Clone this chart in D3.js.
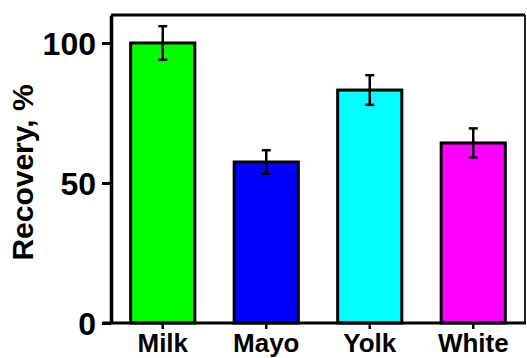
<!DOCTYPE html>
<html><head><meta charset="utf-8">
<script src="https://cdn.jsdelivr.net/npm/d3@7"></script>
<style>body{margin:0;background:#fff}svg{display:block}</style>
</head><body>
<script>
const categories = ["Milk", "Mayo", "Yolk", "White"];
const values = [100, 57.5, 83.2, 64.3];
const errors = [6, 4.2, 5.3, 5.2];
const colors = ["#00ff00", "#0000ff", "#00ffff", "#ff00ff"];
const yTicks = [0, 50, 100];

const W = 527, H = 358;
const mLeft = 111, mRight = 525, mTop = 15, mBottom = 323;
const svg = d3.select("body").append("svg").attr("width", W).attr("height", H);
const font = "'Liberation Sans', Arial, sans-serif";

const x = d3.scaleBand().domain(categories).range([mLeft, mRight]).paddingInner(0.38).paddingOuter(0.19);
const y = d3.scaleLinear().domain([0, 110]).range([mBottom, mTop]);

// bars
svg.selectAll("rect.bar").data(categories).join("rect")
  .attr("class", "bar")
  .attr("x", d => x(d)).attr("width", x.bandwidth())
  .attr("y", (d, i) => y(values[i])).attr("height", (d, i) => y(0) - y(values[i]))
  .attr("fill", (d, i) => colors[i]).attr("stroke", "#000").attr("stroke-width", 3);

// error bars
const eb = svg.selectAll("g.err").data(categories).join("g").attr("class", "err")
  .attr("stroke", "#000").attr("stroke-width", 2.5);
eb.append("line").attr("x1", d => x(d) + x.bandwidth() / 2).attr("x2", d => x(d) + x.bandwidth() / 2)
  .attr("y1", (d, i) => y(values[i] + errors[i])).attr("y2", (d, i) => y(values[i] - errors[i]));
eb.append("line").attr("x1", d => x(d) + x.bandwidth() / 2 - 4.5).attr("x2", d => x(d) + x.bandwidth() / 2 + 4.5)
  .attr("y1", (d, i) => y(values[i] + errors[i])).attr("y2", (d, i) => y(values[i] + errors[i]));
eb.append("line").attr("x1", d => x(d) + x.bandwidth() / 2 - 4.5).attr("x2", d => x(d) + x.bandwidth() / 2 + 4.5)
  .attr("y1", (d, i) => y(values[i] - errors[i])).attr("y2", (d, i) => y(values[i] - errors[i]));

// frame top and right
svg.append("line").attr("x1", mLeft).attr("x2", mRight).attr("y1", mTop).attr("y2", mTop)
  .attr("stroke", "#000").attr("stroke-width", 3);
svg.append("line").attr("x1", mRight).attr("x2", mRight).attr("y1", mTop).attr("y2", mBottom)
  .attr("stroke", "#222").attr("stroke-width", 2);

// y axis
const yAxis = svg.append("g").attr("transform", `translate(${mLeft},0)`)
  .call(d3.axisLeft(y).tickValues(yTicks).tickSize(9).tickPadding(6).tickSizeOuter(0));
yAxis.select(".domain").attr("stroke-width", 3.5);
yAxis.selectAll(".tick line").attr("stroke-width", 3);
yAxis.selectAll(".tick text").attr("font-family", font).attr("font-weight", "bold")
  .attr("font-size", 32).attr("fill", "#000").attr("dy", "0.36em");

// x axis
const xAxis = svg.append("g").attr("transform", `translate(0,${mBottom})`)
  .call(d3.axisBottom(x).tickSize(6).tickPadding(4).tickSizeOuter(0));
xAxis.select(".domain").attr("stroke-width", 3).attr("d", `M${mLeft - 9},0H${mRight + 1}`);
xAxis.selectAll(".tick line").attr("stroke-width", 2.5);
xAxis.selectAll(".tick text").attr("font-family", font).attr("font-weight", "bold")
  .attr("font-size", 26).attr("fill", "#000").attr("dy", "0.72em");

// y label
svg.append("text").attr("transform", `translate(33,${(83 + 262) / 2}) rotate(-90)`)
  .attr("text-anchor", "middle").attr("font-family", font).attr("font-weight", "bold")
  .attr("font-size", 30).text("Recovery, %");
</script>
</body></html>
